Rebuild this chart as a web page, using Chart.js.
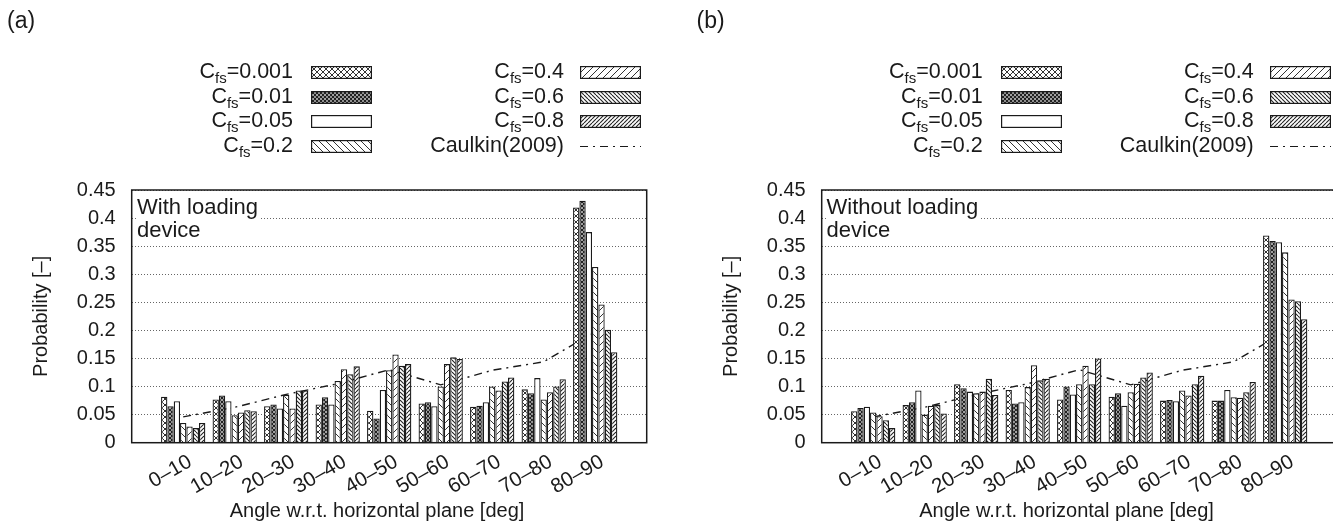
<!DOCTYPE html>
<html>
<head>
<meta charset="utf-8">
<script src="https://cdn.jsdelivr.net/npm/chart.js@4.4.0/dist/chart.umd.min.js"></script>
<style>
  body { margin:0; width:1333px; height:523px; overflow:hidden; background:#fff;
         font-family:"Liberation Sans", Arial, Helvetica, sans-serif; color:#1a1a1a; position:relative; }
  .panel { position:absolute; top:0; width:666px; height:523px; }
  .panel canvas { position:absolute; left:0; top:0; }
  .tag { position:absolute; left:7px; top:7px; font-size:23px; line-height:27px; }
  .lt { position:absolute; font-size:21.5px; line-height:21px; white-space:nowrap; text-align:right; }
  .lt .sb { font-size:15px; position:relative; top:5px; }
  .sw { position:absolute; }
  .note { position:absolute; left:137px; top:195px; font-size:22px; line-height:23px; background:#fff; padding-right:3px; }
  .xt { position:absolute; font-size:20px; line-height:24px; white-space:nowrap; transform:translateX(-50%); }
</style>
</head>
<body>
<div class="panel" id="pa" style="left:0px"></div>
<div class="panel" id="pb" style="left:689.6px"></div>
<script>
// categories and legend entries
const categories = ['0–10','10–20','20–30','30–40','40–50','50–60','60–70','70–80','80–90'];
const cfsLabels = ['0.001','0.01','0.05','0.2','0.4','0.6','0.8'];
const yMin = 0, yMax = 0.45, yStep = 0.05;

// (a) with loading device
const withLd_0001 = [0.082, 0.077, 0.065, 0.068, 0.057, 0.070, 0.064, 0.095, 0.419];
const withLd_001  = [0.065, 0.084, 0.068, 0.081, 0.043, 0.072, 0.066, 0.088, 0.431];
const withLd_005  = [0.074, 0.074, 0.061, 0.068, 0.094, 0.065, 0.072, 0.115, 0.375];
const withLd_02   = [0.035, 0.049, 0.085, 0.110, 0.129, 0.100, 0.100, 0.077, 0.313];
const withLd_04   = [0.029, 0.054, 0.061, 0.131, 0.157, 0.140, 0.093, 0.090, 0.246];
const withLd_06   = [0.026, 0.058, 0.093, 0.122, 0.137, 0.152, 0.109, 0.100, 0.201];
const withLd_08   = [0.035, 0.056, 0.093, 0.136, 0.140, 0.149, 0.116, 0.113, 0.161];

// (b) without loading device
const noLd_0001 = [0.056, 0.067, 0.104, 0.094, 0.077, 0.082, 0.075, 0.075, 0.369];
const noLd_001  = [0.062, 0.072, 0.097, 0.070, 0.100, 0.088, 0.076, 0.075, 0.359];
const noLd_005  = [0.064, 0.093, 0.091, 0.072, 0.086, 0.066, 0.074, 0.094, 0.357];
const noLd_02   = [0.054, 0.050, 0.088, 0.099, 0.104, 0.090, 0.093, 0.081, 0.339];
const noLd_04   = [0.047, 0.066, 0.091, 0.138, 0.137, 0.105, 0.084, 0.080, 0.255];
const noLd_06   = [0.040, 0.067, 0.114, 0.111, 0.104, 0.116, 0.104, 0.090, 0.252];
const noLd_08   = [0.026, 0.052, 0.085, 0.114, 0.150, 0.125, 0.119, 0.108, 0.220];

// Caulkin (2009) reference curve
const caulkin2009 = [0.046, 0.063, 0.086, 0.105, 0.130, 0.103, 0.129, 0.144, 0.198];

const INK = '#1a1a1a';

// hatch tiles for the bar fills
function tile(size, dirs, lw, color) {
  const c = document.createElement('canvas');
  c.width = c.height = size;
  const g = c.getContext('2d');
  g.fillStyle = '#fff';
  g.fillRect(0, 0, size, size);
  g.strokeStyle = color;
  g.lineWidth = lw;
  for (const d of dirs) {
    for (let k = -1; k <= 1; k++) {
      g.beginPath();
      if (d === '\\') { g.moveTo(k*size, 0); g.lineTo(k*size + size, size); }
      else { g.moveTo(k*size, size); g.lineTo(k*size + size, 0); }
      g.stroke();
    }
  }
  return c;
}
const tiles = [
  tile(6, ['\\','/'], 1, '#333'),   // 0.001 crosshatch
  tile(4, ['\\','/'], 1.3, '#222'), // 0.01 dense crosshatch
  tile(4, [], 1, '#333'),           // 0.05 empty
  tile(7, ['\\'], 1, '#333'),       // 0.2
  tile(7, ['/'], 1, '#333'),        // 0.4
  tile(4, ['\\'], 1.1, '#222'),     // 0.6
  tile(4, ['/'], 1.1, '#222')       // 0.8
];
const DASH = [8, 5, 2, 5];

const framePlugin = {
  id: 'frame',
  afterDatasetsDraw(chart) {
    const { ctx, chartArea: a } = chart;
    ctx.save();
    ctx.strokeStyle = INK;
    ctx.lineWidth = 1.5;
    ctx.strokeRect(a.left, a.top, a.right - a.left, a.bottom - a.top);
    ctx.restore();
  }
};

function buildPanel(el, tag, series, noteHtml) {
  el.innerHTML = '<div class="tag">' + tag + '</div>';

  // legend (html)
  const rows = cfsLabels.map((v, i) => ({ html: 'C<span class="sb">fs</span>=' + v, idx: i }));
  rows.push({ html: 'Caulkin(2009)', idx: -1 });
  rows.forEach((r, i) => {
    const col = i < 4 ? 0 : 1;
    const row = i % 4;
    const base = 79 + row * 24.5;
    const textRight = col ? 564 : 293;
    const swX = col ? 580 : 311;
    const t = document.createElement('div');
    t.className = 'lt';
    t.style.right = (666 - textRight) + 'px';
    t.style.top = (base - 18) + 'px';
    t.innerHTML = r.html;
    el.appendChild(t);
    const sw = document.createElement('canvas');
    sw.className = 'sw';
    sw.width = 61; sw.height = 13;
    sw.style.left = swX + 'px';
    sw.style.top = (base - 13) + 'px';
    const g = sw.getContext('2d');
    if (r.idx >= 0) {
      g.fillStyle = g.createPattern(tiles[r.idx], 'repeat');
      g.fillRect(0, 0, 61, 13);
      g.strokeStyle = INK; g.lineWidth = 1.2;
      g.strokeRect(0.6, 0.6, 59.8, 11.8);
    } else {
      g.strokeStyle = INK; g.lineWidth = 1.2; g.setLineDash(DASH);
      g.beginPath(); g.moveTo(0, 6.5); g.lineTo(61, 6.5); g.stroke();
    }
    el.appendChild(sw);
  });

  const note = document.createElement('div');
  note.className = 'note';
  note.innerHTML = noteHtml;
  el.appendChild(note);

  const xt = document.createElement('div');
  xt.className = 'xt';
  xt.style.left = '377px';
  xt.style.top = '498px';
  xt.textContent = 'Angle w.r.t. horizontal plane [deg]';
  el.appendChild(xt);

  const cv = document.createElement('canvas');
  cv.width = 666; cv.height = 523;
  el.insertBefore(cv, el.firstChild);
  const ctx = cv.getContext('2d');

  const labels = [''].concat(categories, ['']);
  const pad = arr => [null].concat(arr, [null]);

  const datasets = series.map((arr, i) => ({
    type: 'bar',
    label: 'Cfs=' + cfsLabels[i],
    data: pad(arr),
    backgroundColor: ctx.createPattern(tiles[i], 'repeat'),
    borderColor: INK,
    borderWidth: 1.3,
    categoryPercentage: 0.86,
    barPercentage: 1.0,
    order: 0
  }));
  datasets.push({
    type: 'line',
    label: 'Caulkin(2009)',
    data: pad(caulkin2009),
    borderColor: INK,
    borderWidth: 1.4,
    borderDash: DASH,
    pointRadius: 0,
    fill: false,
    tension: 0,
    order: 1
  });

  new Chart(cv, {
    data: { labels, datasets },
    options: {
      responsive: false,
      animation: false,
      layout: { padding: { left: 29, right: 12, top: 190, bottom: 0 } },
      plugins: { legend: { display: false }, tooltip: { enabled: false } },
      scales: {
        x: {
          type: 'category',
          offset: false,
          grid: { display: false, drawTicks: false },
          border: { display: false },
          ticks: {
            autoSkip: false, minRotation: 30, maxRotation: 30,
            font: { size: 20.5, family: '"Liberation Sans", Arial, sans-serif' },
            color: INK, padding: 7, labelOffset: 7
          },
          afterFit(s) { s.height = 80.3; }
        },
        y: {
          min: yMin, max: yMax,
          ticks: {
            stepSize: yStep,
            font: { size: 20, family: '"Liberation Sans", Arial, sans-serif' },
            color: INK, padding: 16,
            callback: v => String(+v.toFixed(2))
          },
          grid: { color: '#666', lineWidth: 1, drawTicks: false },
          border: { display: false, dash: [1, 2] },
          title: {
            display: true, text: 'Probability [–]', color: INK,
            font: { size: 20, family: '"Liberation Sans", Arial, sans-serif' },
            padding: { top: 0, bottom: 0 }
          },
          afterFit(s) { s.width = 102.7; }
        }
      }
    },
    plugins: [framePlugin]
  });
}

buildPanel(document.getElementById('pa'), '(a)',
  [withLd_0001, withLd_001, withLd_005, withLd_02, withLd_04, withLd_06, withLd_08],
  'With loading<br>device');
buildPanel(document.getElementById('pb'), '(b)',
  [noLd_0001, noLd_001, noLd_005, noLd_02, noLd_04, noLd_06, noLd_08],
  'Without loading<br>device');
</script>
</body>
</html>
